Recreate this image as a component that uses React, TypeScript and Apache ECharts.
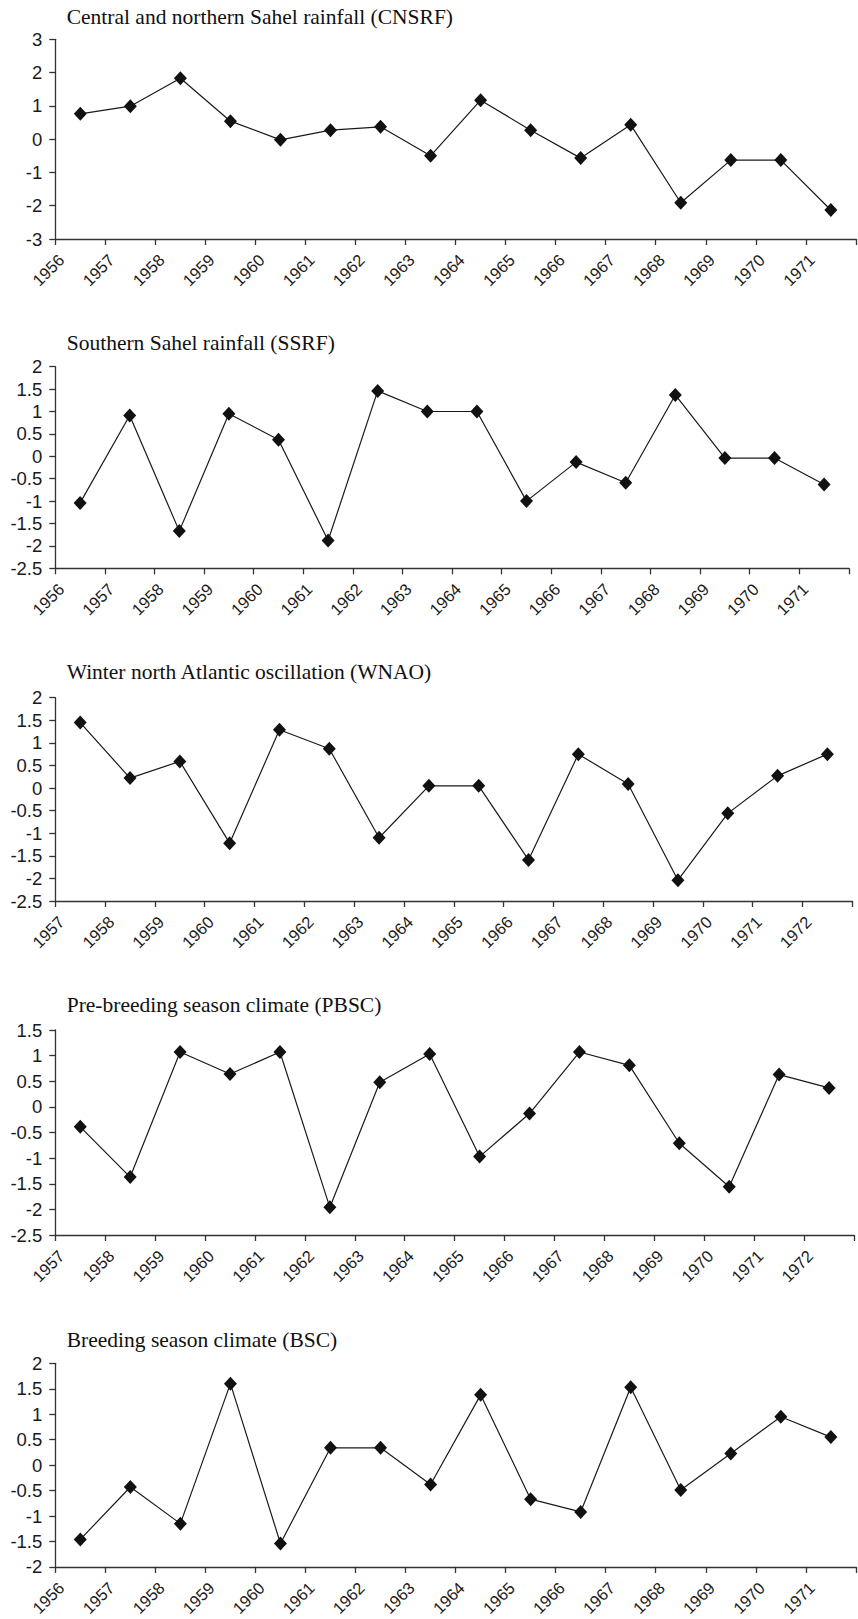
import React, { useEffect, useRef } from "react";
import * as echarts from "echarts";

// ---- data ----
const yearsA = ["1956","1957","1958","1959","1960","1961","1962","1963","1964","1965","1966","1967","1968","1969","1970","1971"];
const yearsB = ["1957","1958","1959","1960","1961","1962","1963","1964","1965","1966","1967","1968","1969","1970","1971","1972"];

const cnsrf = [0.76, 0.99, 1.83, 0.54, -0.02, 0.27, 0.37, -0.5, 1.17, 0.27, -0.57, 0.43, -1.91, -0.63, -0.63, -2.13];
const ssrf = [-1.04, 0.91, -1.67, 0.95, 0.37, -1.88, 1.46, 1.0, 1.0, -1.0, -0.13, -0.59, 1.37, -0.04, -0.04, -0.63];
const wnao = [1.45, 0.22, 0.59, -1.22, 1.29, 0.87, -1.1, 0.05, 0.05, -1.59, 0.75, 0.09, -2.04, -0.56, 0.27, 0.75];
const pbsc = [-0.39, -1.37, 1.07, 0.64, 1.07, -1.96, 0.48, 1.03, -0.97, -0.13, 1.07, 0.81, -0.71, -1.56, 0.63, 0.37];
const bsc = [-1.46, -0.43, -1.15, 1.6, -1.54, 0.34, 0.34, -0.38, 1.38, -0.67, -0.92, 1.53, -0.49, 0.23, 0.95, 0.55];

const titles = [
  "Central and northern Sahel rainfall (CNSRF)",
  "Southern Sahel rainfall (SSRF)",
  "Winter north Atlantic oscillation (WNAO)",
  "Pre-breeding season climate (PBSC)",
  "Breeding season climate (BSC)",
];
const panelYears = [yearsA, yearsA, yearsB, yearsB, yearsA];
const panelValues = [cnsrf, ssrf, wnao, pbsc, bsc];
const yRanges = [
  { min: -3, max: 3, interval: 1 },
  { min: -2.5, max: 2, interval: 0.5 },
  { min: -2.5, max: 2, interval: 0.5 },
  { min: -2.5, max: 1.5, interval: 0.5 },
  { min: -2, max: 2, interval: 0.5 },
];

// ---- layout (pixels) ----
const layout = [
  { top: 39.3, height: 199.7, width: 809.6, titleY: 16.7 },
  { top: 366.7, height: 201.6, width: 793.6, titleY: 343.3 },
  { top: 697.7, height: 203.3, width: 797, titleY: 672.3 },
  { top: 1030, height: 205, width: 798.7, titleY: 1005 },
  { top: 1363.3, height: 206.7, width: 801.7, titleY: 1340 },
];
const LEFT = 55.3;
const INK = "#1a1a1a";
const AXIS = "#333";

export default function App() {
  const ref = useRef<HTMLDivElement>(null);
  useEffect(() => {
    if (!ref.current) return;
    const chart = echarts.init(ref.current, undefined, { renderer: "svg" });

    const grid: any[] = [];
    const xAxis: any[] = [];
    const yAxis: any[] = [];
    const series: any[] = [];
    const graphic: any[] = [];

    panelYears.forEach((cats, i) => {
      const L = layout[i];
      grid.push({ left: LEFT, top: L.top, width: L.width, height: L.height, containLabel: false });
      const start = Number(cats[0]);
      // hidden category axis that places the data
      xAxis.push({
        type: "category",
        gridIndex: i,
        data: cats,
        boundaryGap: true,
        show: false,
      });
      // visible value axis that shows the year boundaries
      xAxis.push({
        type: "value",
        gridIndex: i,
        position: "bottom",
        min: start,
        max: start + cats.length,
        interval: 1,
        splitLine: { show: false },
        axisLine: { show: true, lineStyle: { color: AXIS, width: 1.3 } },
        axisTick: { show: true, length: 6, lineStyle: { color: AXIS, width: 1.3 } },
        axisLabel: {
          rotate: 45,
          margin: 12,
          align: "right",
          verticalAlign: "top",
          fontFamily: "Liberation Sans",
          fontSize: 16.5,
          color: "#1a1a1a",
          showMaxLabel: true,
          formatter: (v: number) => cats[Math.round(v) - start] ?? "",
        },
      });
      yAxis.push({
        type: "value",
        gridIndex: i,
        min: yRanges[i].min,
        max: yRanges[i].max,
        interval: yRanges[i].interval,
        splitLine: { show: false },
        axisLine: { show: true, lineStyle: { color: AXIS, width: 1.3 } },
        axisTick: { show: true, length: 6, lineStyle: { color: AXIS, width: 1.3 } },
        axisLabel: {
          margin: 13,
          fontFamily: "Liberation Sans",
          fontSize: 18.5,
          color: "#1a1a1a",
        },
      });
      series.push({
        type: "line",
        xAxisIndex: i * 2,
        yAxisIndex: i,
        data: panelValues[i],
        symbol: "diamond",
        symbolSize: [13, 14],
        showAllSymbol: true,
        lineStyle: { color: INK, width: 1.2 },
        itemStyle: { color: "#111", borderWidth: 0 },
        z: 3,
      });
      graphic.push({
        type: "text",
        x: 66.7,
        y: L.titleY,
        style: {
          text: titles[i],
          font: "21.5px 'Liberation Serif'",
          fill: "#111",
          verticalAlign: "middle",
          align: "left",
        },
      });
    });

    chart.setOption({
      animation: false,
      backgroundColor: "#fff",
      grid,
      xAxis,
      yAxis,
      series,
      graphic,
    });
    return () => chart.dispose();
  }, []);

  return (
    <div
      ref={ref}
      style={{ position: "absolute", left: 0, top: 0, width: 858, height: 1619, overflow: "hidden" }}
    />
  );
}
